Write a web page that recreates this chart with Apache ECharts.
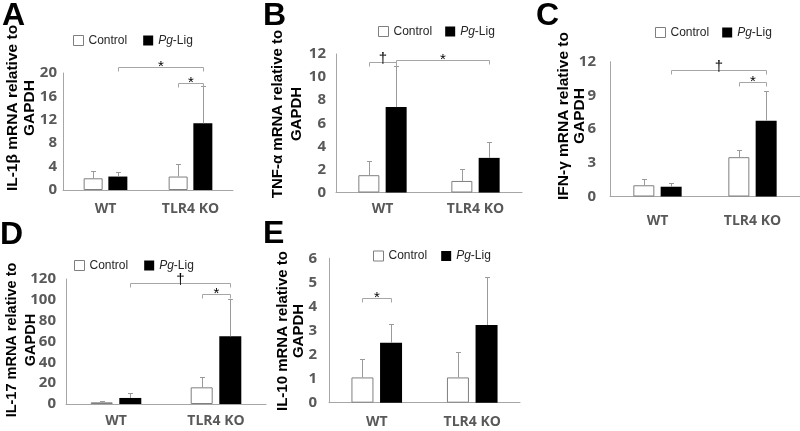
<!DOCTYPE html>
<html>
<head>
<meta charset="utf-8">
<script src="https://cdn.jsdelivr.net/npm/echarts@6/dist/echarts.min.js"></script>
<style>html,body{margin:0;padding:0;background:#fff}#c{width:800px;height:431px}</style>
</head>
<body>
<div id="c"></div>
<script>
// ---- data ----
const categories = ['WT', 'TLR4 KO'];
const seriesNames = ['Control', 'Pg-Lig'];

// A: IL-1β
const il1bControl = [2.0, 2.3];
const il1bControlErr = [1.3, 2.1];
const il1bPg = [2.3, 11.4];
const il1bPgErr = [0.7, 6.4];
const il1bTicks = [0, 20, 4];
// B: TNF-α
const tnfControl = [1.5, 1.0];
const tnfControlErr = [1.2, 1.0];
const tnfPg = [7.4, 3.0];
const tnfPgErr = [3.6, 1.4];
const tnfTicks = [0, 12, 2];
// C: IFN-γ
const ifnControl = [1.0, 3.5];
const ifnControlErr = [0.55, 0.65];
const ifnPg = [0.87, 6.75];
const ifnPgErr = [0.3, 2.65];
const ifnTicks = [0, 12, 3];
// D: IL-17
const il17Control = [1.6, 16];
const il17ControlErr = [1.6, 9.6];
const il17Pg = [5.8, 65];
const il17PgErr = [4.5, 35.5];
const il17Ticks = [0, 120, 20];
// E: IL-10
const il10Control = [1.05, 1.05];
const il10ControlErr = [0.75, 1.04];
const il10Pg = [2.49, 3.23];
const il10PgErr = [0.77, 2.01];
const il10Ticks = [0, 6, 1];

// significance brackets: [fromCategory, fromGroup(0 ctrl/1 pg), toCategory, toGroup, yValue]
const il1bBrackets = [[0, 1, 1, 1, 21.1], [1, 0, 1, 1, 18.3]];
const il1bMarks = ['*', '*'];
const tnfBrackets = [[0, 0, 0, 1, 11.28], [0, 1, 1, 1, 11.48]];
const tnfMarks = ['†', '*'];
const ifnBrackets = [[0, 1, 1, 1, 11.26], [1, 0, 1, 1, 10.22]];
const ifnMarks = ['†', '*'];
const il17Brackets = [[0, 1, 1, 1, 115.9], [1, 0, 1, 1, 105.3]];
const il17Marks = ['†', '*'];
const il10Brackets = [[0, 0, 0, 1, 4.36]];
const il10Marks = ['*'];

const panelLetters = ['A', 'B', 'C', 'D', 'E'];
const yTitles = ['IL-1β mRNA relative to\nGAPDH', 'TNF-α mRNA relative to\nGAPDH', 'IFN-γ mRNA relative to\nGAPDH', 'IL-17 mRNA relative to\nGAPDH', 'IL-10 mRNA relative to\nGAPDH'];

// ---- layout (styles / positions) ----
const panels = [
  {ctrl: il1bControl, ctrlErr: il1bControlErr, pg: il1bPg, pgErr: il1bPgErr, ticks: il1bTicks, br: il1bBrackets, mk: il1bMarks,
   grid: {left: 63, top: 73, width: 170, height: 117}, bw: 19, yMargin: 6, xMargin: 12,
   legend: {left: 73, top: 34.5, gap: 16}, letter: [2, 16], title: {x: 21, y: 108, fs: 15.5, lh: 17}},
  {ctrl: tnfControl, ctrlErr: tnfControlErr, pg: tnfPg, pgErr: tnfPgErr, ticks: tnfTicks, br: tnfBrackets, mk: tnfMarks,
   grid: {left: 336, top: 54, width: 186, height: 138.5}, bw: 21, yMargin: 10, xMargin: 10,
   legend: {left: 378, top: 25.5, gap: 13}, letter: [263, 16], title: {x: 287, y: 114, fs: 15, lh: 19}},
  {ctrl: ifnControl, ctrlErr: ifnControlErr, pg: ifnPg, pgErr: ifnPgErr, ticks: ifnTicks, br: ifnBrackets, mk: ifnMarks,
   grid: {left: 610, top: 61.7, width: 190, height: 134.8}, bw: 21, yMargin: 14, xMargin: 18,
   legend: {left: 655, top: 26.5, gap: 13}, letter: [536, 16], title: {x: 572, y: 116, fs: 15.5, lh: 16}},
  {ctrl: il17Control, ctrlErr: il17ControlErr, pg: il17Pg, pgErr: il17PgErr, ticks: il17Ticks, br: il17Brackets, mk: il17Marks,
   grid: {left: 66, top: 279, width: 200, height: 125}, bw: 22, yMargin: 10, xMargin: 10,
   legend: {left: 74, top: 259.5, gap: 16}, letter: [0, 235], title: {x: 21, y: 340, fs: 14.5, lh: 19}},
  {ctrl: il10Control, ctrlErr: il10ControlErr, pg: il10Pg, pgErr: il10PgErr, ticks: il10Ticks, br: il10Brackets, mk: il10Marks,
   grid: {left: 329, top: 258.3, width: 191, height: 144.4}, bw: 22, yMargin: 12, xMargin: 12,
   legend: {left: 373, top: 250, gap: 14}, letter: [263, 234], title: {x: 291, y: 331, fs: 15, lh: 16}}
];

const AXIS_COLOR = '#a6a6a6';
const ERR_COLOR = '#9a9a9a';
const LABEL_COLOR = '#595959';
const LABEL_FONT = 'Open Sans';
const GAP_RATIO = 0.3;

const option = {
  animation: false,
  backgroundColor: '#fff',
  grid: [], xAxis: [], yAxis: [], series: [], legend: [], graphic: []
};

panels.forEach((p, i) => {
  option.grid.push(Object.assign({containLabel: false, outerBoundsMode: 'none'}, p.grid));
  option.xAxis.push({
    type: 'category', gridIndex: i, data: categories,
    axisLine: {show: true, lineStyle: {color: AXIS_COLOR, width: 1}},
    axisTick: {show: false},
    axisLabel: {color: LABEL_COLOR, fontFamily: LABEL_FONT, fontWeight: 'bold', fontSize: 14, margin: p.xMargin},
    splitLine: {show: false}
  });
  option.yAxis.push({
    type: 'value', gridIndex: i, min: p.ticks[0], max: p.ticks[1], interval: p.ticks[2],
    axisLine: {show: true, lineStyle: {color: AXIS_COLOR, width: 1}},
    axisTick: {show: false},
    axisLabel: {color: LABEL_COLOR, fontFamily: LABEL_FONT, fontWeight: 'bold', fontSize: 15, margin: p.yMargin},
    splitLine: {show: false}
  });
  option.series.push({
    name: 'Control', type: 'bar', xAxisIndex: i, yAxisIndex: i, data: p.ctrl,
    barWidth: p.bw, barGap: (GAP_RATIO * 100) + '%',
    itemStyle: {color: '#ffffff', borderColor: '#7f7f7f', borderWidth: 1}
  });
  option.series.push({
    name: 'Pg-Lig', type: 'bar', xAxisIndex: i, yAxisIndex: i, data: p.pg,
    barWidth: p.bw, barGap: (GAP_RATIO * 100) + '%',
    itemStyle: {color: '#000000'}
  });
  const half = p.bw * (1 + GAP_RATIO) / 2;
  const errData = [];
  p.ctrl.forEach((v, k) => errData.push([k, v, p.ctrlErr[k], -1]));
  p.pg.forEach((v, k) => errData.push([k, v, p.pgErr[k], 1]));
  option.series.push({
    type: 'custom', xAxisIndex: i, yAxisIndex: i, z: 5, silent: true, clip: false,
    data: errData,
    renderItem: function (params, api) {
      const cat = api.value(0), val = api.value(1), err = api.value(2), side = api.value(3);
      const b = api.coord([cat, val]);
      const t = api.coord([cat, val + err]);
      const x = Math.round(b[0] + side * half) + 0.5;
      const ty = Math.round(t[1]) + 0.5;
      const st = {stroke: ERR_COLOR, lineWidth: 1};
      return {type: 'group', children: [
        {type: 'line', shape: {x1: x, y1: b[1], x2: x, y2: ty}, style: st},
        {type: 'line', shape: {x1: x - 2.5, y1: ty, x2: x + 2.5, y2: ty}, style: st}
      ]};
    }
  });
  const marks = p.mk;
  option.series.push({
    type: 'custom', xAxisIndex: i, yAxisIndex: i, z: 6, silent: true, clip: false,
    data: p.br,
    renderItem: function (params, api) {
      const c1 = api.value(0), s1 = api.value(1), c2 = api.value(2), s2 = api.value(3), yv = api.value(4);
      const a = api.coord([c1, yv]);
      const b = api.coord([c2, yv]);
      const x1 = Math.round(a[0] + (s1 ? 1 : -1) * half) + 0.5;
      const x2 = Math.round(b[0] + (s2 ? 1 : -1) * half) + 0.5;
      const y = Math.round(a[1]) + 0.5;
      const st = {stroke: AXIS_COLOR, lineWidth: 1};
      const m = marks[params.dataIndex];
      const dag = m === '†';
      return {type: 'group', children: [
        {type: 'line', shape: {x1: x1, y1: y, x2: x2, y2: y}, style: st},
        {type: 'line', shape: {x1: x1, y1: y, x2: x1, y2: y + 4}, style: st},
        {type: 'line', shape: {x1: x2, y1: y, x2: x2, y2: y + 4}, style: st},
        {type: 'text', x: (x1 + x2) / 2, y: dag ? y - 4 : y - 1,
         style: {text: m, fill: '#000', fontSize: 15, fontFamily: 'Liberation Sans', align: 'center', verticalAlign: 'middle'}}
      ]};
    }
  });
  option.legend.push({
    left: p.legend.left, top: p.legend.top, orient: 'horizontal', padding: 0,
    itemWidth: 10, itemHeight: 10, itemGap: p.legend.gap, icon: 'rect',
    data: [
      {name: 'Control', itemStyle: {color: '#ffffff', borderColor: '#7f7f7f', borderWidth: 1}},
      {name: 'Pg-Lig', itemStyle: {color: '#000000'}}
    ],
    formatter: function (name) { return name === 'Pg-Lig' ? '{i|Pg}-Lig' : name; },
    textStyle: {fontFamily: 'Liberation Sans', fontSize: 12, color: '#262626', padding: [0, 0, 0, 0],
      rich: {i: {fontFamily: 'Liberation Sans', fontSize: 12, fontStyle: 'italic', color: '#262626'}}},
    selectedMode: false
  });
  option.graphic.push({
    type: 'text', x: p.letter[0], y: p.letter[1],
    style: {text: panelLetters[i], fontSize: 32, fontWeight: 'bold', fontFamily: 'Liberation Sans', fill: '#000', align: 'left', verticalAlign: 'middle'}
  });
  option.graphic.push({
    type: 'text', x: p.title.x, y: p.title.y, rotation: Math.PI / 2,
    style: {text: yTitles[i], fontSize: p.title.fs, fontWeight: 'bold', fontFamily: 'Liberation Sans', lineHeight: p.title.lh,
      fill: '#000', align: 'center', verticalAlign: 'middle'}
  });
});

const chart = echarts.init(document.getElementById('c'), null, {renderer: 'canvas'});
chart.setOption(option);
</script>
</body>
</html>
